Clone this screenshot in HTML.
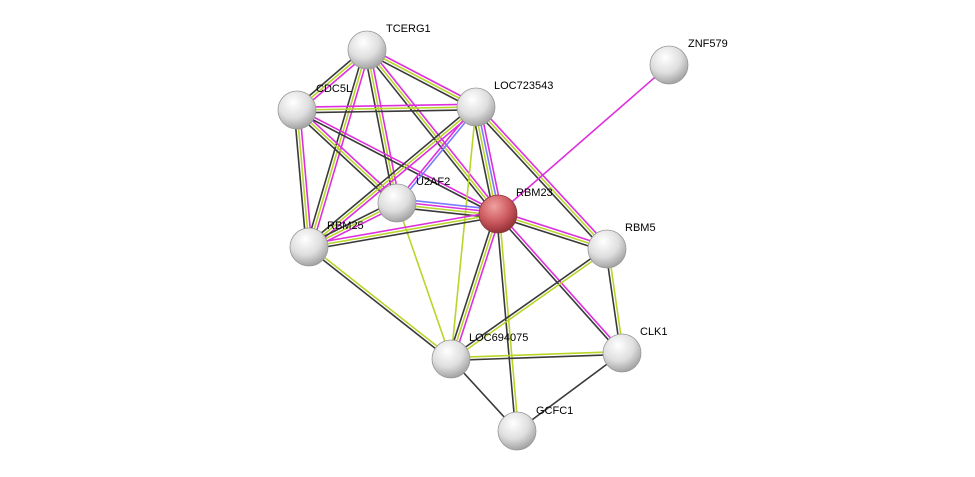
<!DOCTYPE html>
<html><head><meta charset="utf-8"><style>
html,body{margin:0;padding:0;background:#fff;}
svg{display:block;}
text{font-family:"Liberation Sans",sans-serif;font-size:11px;fill:#000;}
</style></head><body>
<svg id="s" width="975" height="477" viewBox="0 0 975 477" xmlns="http://www.w3.org/2000/svg">
<defs>
<radialGradient id="g" cx="0.4" cy="0.3" r="0.75">
<stop offset="0" stop-color="#ffffff"/><stop offset="0.55" stop-color="#dedede"/><stop offset="1" stop-color="#9a9a9a"/>
</radialGradient>
<radialGradient id="r" cx="0.4" cy="0.3" r="0.75">
<stop offset="0" stop-color="#f0a0a0"/><stop offset="0.55" stop-color="#cc5a5f"/><stop offset="1" stop-color="#8a2a30"/>
</radialGradient>
</defs>
<g id="edges"></g>
<g id="nodes"></g>
</svg>
<script>
var N={TCERG1:[367,50],ZNF579:[669,65],CDC5L:[297,110],LOC723543:[476,107],U2AF2:[397,203],RBM23:[498,214],RBM25:[309,247],RBM5:[607,249],LOC694075:[451,359],CLK1:[622,353],GCFC1:[517,431]};
var C={m:"#dd2fdd",y:"#b8d62a",k:"#3a3a3a",b:"#7a7aff"};
var E=[["TCERG1","CDC5L","myk"],["TCERG1","LOC723543","myk"],["TCERG1","RBM23","myk"],["TCERG1","RBM25","myk"],["TCERG1","U2AF2","myk"],
["CDC5L","LOC723543","myk"],["CDC5L","RBM25","myk"],["CDC5L","U2AF2","myk"],["CDC5L","RBM23","mk"],
["LOC723543","RBM25","myk"],["LOC723543","U2AF2","bm"],["LOC723543","RBM23","mbyk"],["LOC723543","RBM5","myk"],["LOC723543","LOC694075","y"],
["U2AF2","RBM23","bmyk"],["U2AF2","RBM25","myk"],["U2AF2","LOC694075","y"],["RBM25","RBM23","myk"],["RBM25","LOC694075","yk"],
["RBM23","RBM5","myk"],["RBM23","ZNF579","m"],["RBM23","CLK1","mk"],["RBM23","LOC694075","myk"],["RBM23","GCFC1","yk"],
["RBM5","CLK1","yk"],["RBM5","LOC694075","yk"],["LOC694075","CLK1","yk"],["LOC694075","GCFC1","k"],["CLK1","GCFC1","k"]];
var ns="http://www.w3.org/2000/svg",eg=document.getElementById("edges"),ng=document.getElementById("nodes");
E.forEach(function(e){var a=N[e[0]],b=N[e[1]],dx=b[0]-a[0],dy=b[1]-a[1],L=Math.hypot(dx,dy),px=-dy/L,py=dx/L,n=e[2].length;
for(var i=0;i<n;i++){var o=(i-(n-1)/2)*2.8;var l=document.createElementNS(ns,"line");
l.setAttribute("x1",a[0]+px*o);l.setAttribute("y1",a[1]+py*o);l.setAttribute("x2",b[0]+px*o);l.setAttribute("y2",b[1]+py*o);
l.setAttribute("stroke",C[e[2][i]]);l.setAttribute("stroke-width","1.6");eg.appendChild(l);}});
var lab={TCERG1:[386,28],ZNF579:[688,43],CDC5L:[316,88],LOC723543:[494,85],U2AF2:[416,181],RBM23:[516,192],RBM25:[327,225],RBM5:[625,227],LOC694075:[469,337],CLK1:[640,331],GCFC1:[536,410]};
for(var k in N){var p=N[k];var c=document.createElementNS(ns,"circle");c.setAttribute("cx",p[0]);c.setAttribute("cy",p[1]);c.setAttribute("r",19);
c.setAttribute("fill",k=="RBM23"?"url(#r)":"url(#g)");c.setAttribute("stroke",k=="RBM23"?"#8a3a3a":"#999");c.setAttribute("stroke-width","0.8");ng.appendChild(c);
var t=document.createElementNS(ns,"text");t.setAttribute("x",lab[k][0]);t.setAttribute("y",lab[k][1]+4);t.textContent=k;ng.appendChild(t);}
</script>
</body></html>
